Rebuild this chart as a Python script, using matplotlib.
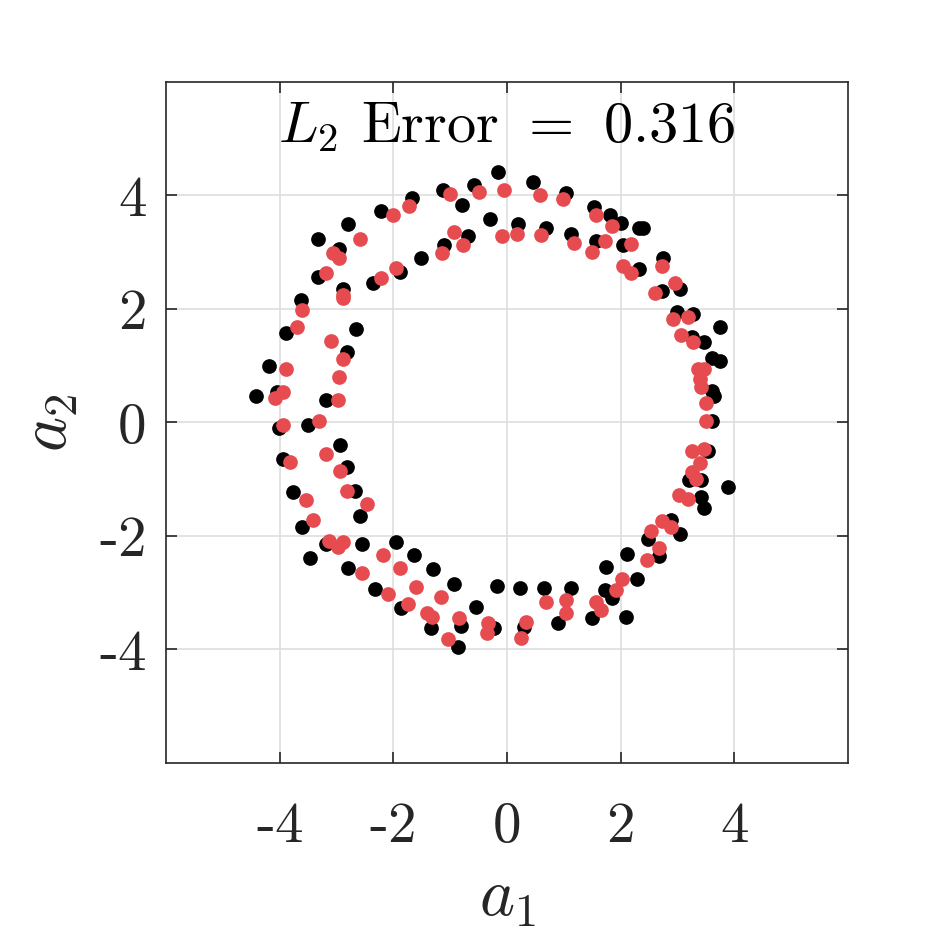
import numpy as np
import matplotlib
matplotlib.use("Agg")
import matplotlib.pyplot as plt

plt.rcParams['font.family'] = 'cmr10'
plt.rcParams['mathtext.fontset'] = 'cm'
plt.rcParams['axes.unicode_minus'] = False
plt.rcParams['axes.formatter.use_mathtext'] = True

## points (a1, a2)
black_a1 = [-0.16, -0.58, -1.12, -0.79, -1.67, -2.21, -0.30, -0.68, -1.11, -1.51,
            -1.88, -2.35, -2.79, -3.33, -2.96, -3.33, -2.88, -3.63, 0.46, 1.04,
            1.53, 1.82, 2.00, 2.32, 0.19, 0.68, 1.12, 1.56, 2.04, 2.32,
            2.39, 2.75, 3.05, 2.72, 3.00, 3.28, 3.74, 3.25, 3.46, 3.61,
            3.74, 3.60, 3.65, 3.60, 3.54, 3.21, 3.42, 3.89, 3.42, 3.46,
            2.89, 3.05, 2.49, 2.68, 2.12, 1.75, 2.28, 1.72, 1.84, 0.65,
            1.12, 0.89, 1.49, 2.09, -1.63, -1.30, -0.93, -0.18, 0.23, -0.54,
            -1.33, -0.81, -0.23, 0.30, -0.86, -3.61, -3.18, -2.56, -3.46, -1.95,
            -2.79, -2.33, -1.86, -4.02, -3.51, -2.93, -3.95, -2.82, -3.77, -2.68,
            -2.58, -3.89, -2.65, -2.82, -4.18, -4.42, -4.04, -3.18]
black_a2 = [4.42, 4.19, 4.10, 3.84, 3.96, 3.73, 3.59, 3.29, 3.13, 2.90,
            2.66, 2.46, 3.49, 3.24, 3.05, 2.57, 2.36, 2.15, 4.23, 4.05,
            3.80, 3.66, 3.52, 3.42, 3.49, 3.42, 3.33, 3.19, 3.12, 2.71,
            3.43, 2.89, 2.36, 2.32, 1.94, 1.92, 1.69, 1.50, 1.41, 1.13,
            1.09, 0.56, 0.46, 0.02, -0.51, -1.02, -1.02, -1.14, -1.32, -1.51,
            -1.71, -1.97, -2.06, -2.36, -2.32, -2.55, -2.76, -2.96, -3.10, -2.92,
            -2.92, -3.54, -3.45, -3.43, -2.34, -2.59, -2.85, -2.89, -2.92, -3.26,
            -3.63, -3.59, -3.63, -3.61, -3.96, -1.85, -2.15, -2.15, -2.39, -2.11,
            -2.57, -2.94, -3.27, -0.09, -0.04, -0.39, -0.65, -0.79, -1.23, -1.20,
            -1.65, 1.57, 1.64, 1.25, 0.99, 0.46, 0.53, 0.40]

red_a1 = [-0.49, -0.05, -1.00, -1.72, -2.00, -0.09, -0.93, -0.77, -1.14, -1.95,
          -2.21, -2.58, -3.07, -2.96, -3.18, -2.89, 0.58, 0.98, 1.56, 1.84,
          0.18, 0.60, 1.18, 1.49, 1.72, 2.19, 2.04, 2.18, 2.72, 2.95,
          2.60, 2.93, 3.18, 3.07, 3.28, 3.37, 3.47, 3.40, 3.42, 3.51,
          3.51, 3.25, 3.46, 3.39, 3.25, 3.33, 3.02, 3.19, 2.72, 2.89,
          2.53, 2.67, 2.46, 2.02, 1.91, 0.68, 1.04, 1.04, 1.56, 1.65,
          -1.60, -1.16, -1.40, -1.32, -0.84, -0.33, -0.35, 0.33, 0.25, -1.04,
          -3.42, -3.14, -2.98, -2.89, -2.19, -2.56, -1.88, -2.09, -1.75, -3.95,
          -3.30, -3.18, -3.81, -2.93, -3.53, -2.82, -2.47, -2.88, -3.60, -3.70,
          -3.09, -2.89, -2.96, -3.88, -3.95, -4.09, -2.98]
red_a2 = [4.07, 4.10, 4.03, 3.82, 3.66, 3.29, 3.36, 3.12, 2.99, 2.73,
          2.55, 3.24, 2.98, 2.90, 2.64, 2.24, 4.01, 3.93, 3.66, 3.47,
          3.33, 3.31, 3.17, 3.01, 3.19, 3.15, 2.75, 2.64, 2.75, 2.45,
          2.29, 1.83, 1.85, 1.55, 1.41, 0.95, 0.95, 0.77, 0.62, 0.35,
          0.02, -0.51, -0.46, -0.72, -0.88, -0.99, -1.27, -1.34, -1.73, -1.85,
          -1.92, -2.22, -2.43, -2.75, -2.96, -3.17, -3.13, -3.36, -3.17, -3.31,
          -2.90, -3.08, -3.35, -3.42, -3.45, -3.54, -3.71, -3.52, -3.79, -3.82,
          -1.71, -2.08, -2.20, -2.10, -2.34, -2.66, -2.57, -3.03, -3.19, -0.05,
          0.02, -0.55, -0.70, -0.85, -1.37, -1.21, -1.43, 2.20, 1.99, 1.69,
          1.43, 1.11, 0.81, 0.95, 0.53, 0.44, 0.39]

ticks = [-4, -2, 0, 2, 4]
tick_labels = ['-4', '-2', '0', '2', '4']
err_text = r'$L_2$ Error $=$ 0.316'

fig = plt.figure(figsize=(9.38, 9.38), dpi=100)
ax = fig.add_axes([0.177, 0.1866, 0.727, 0.726])

ax.scatter(black_a1, black_a2, s=112, color='black', linewidths=0, zorder=3)
ax.scatter(red_a1, red_a2, s=112, color='#E64B50', linewidths=0, zorder=4)

ax.set_xlim(-6, 6)
ax.set_ylim(-6, 6)
ax.set_xticks(ticks)
ax.set_yticks(ticks)
ax.set_xticklabels(tick_labels)
ax.set_yticklabels(tick_labels)
ax.grid(True, color='#dedede', linewidth=1.2, zorder=0)
ax.set_axisbelow(True)

ax.tick_params(direction='in', length=8, width=1.2, colors='#262626',
               labelsize=41, top=True, right=True)
ax.tick_params(axis='x', pad=28)
ax.tick_params(axis='y', pad=14)
for sp in ax.spines.values():
    sp.set_color('#262626')
    sp.set_linewidth(1.2)

ax.set_xlabel(r'$a_1$', fontsize=48, color='#262626', labelpad=12)
ax.set_ylabel(r'$a_2$', fontsize=48, color='#262626', labelpad=14)
ax.text(0, 5.2, err_text, ha='center', va='center', fontsize=42, color='black')

fig.savefig('out.png', dpi=100)
